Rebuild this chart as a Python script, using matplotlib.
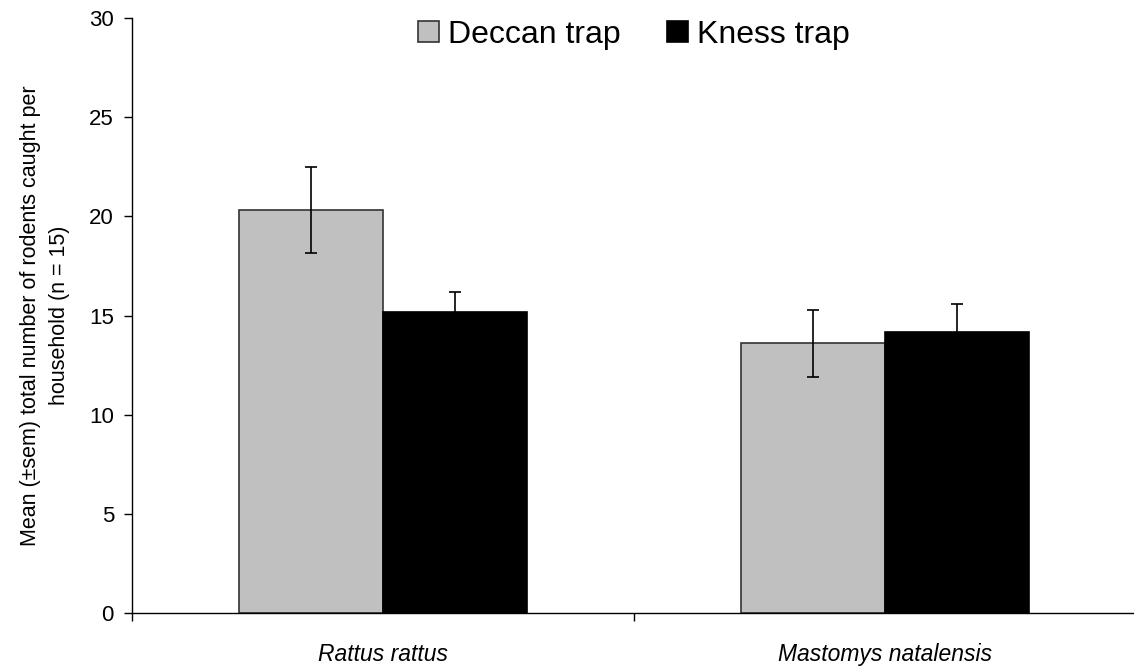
import numpy as np
import matplotlib.pyplot as plt

plt.rcParams['font.family'] = ['Liberation Sans', 'DejaVu Sans']

# Mean rodents caught per household, with standard error
species = ['Rattus rattus', 'Mastomys natalensis']
deccan_mean = [20.3, 13.6]
deccan_sem = [2.17, 1.69]
kness_mean = [15.2, 14.15]
kness_sem = [1.0, 1.45]

fig = plt.figure(figsize=(11.34, 6.7), dpi=100)
ax = fig.add_axes([132 / 1134, 57 / 670, 1004 / 1134, 595 / 670])

x = np.arange(len(species))
w = 0.287
err_kw = dict(ecolor='black', elinewidth=1.2, capsize=4.5, capthick=1.2)

ax.bar(x - w / 2, deccan_mean, w, yerr=deccan_sem, color='#c0c0c0',
       edgecolor='#333333', linewidth=1.2, label='Deccan trap', error_kw=err_kw)
ax.bar(x + w / 2, kness_mean, w, yerr=kness_sem, color='black',
       edgecolor='black', linewidth=1.2, label='Kness trap', error_kw=err_kw)

ax.set_xlim(-0.5, 1.5)
ax.set_ylim(0, 30)
ax.set_yticks(range(0, 31, 5))
ax.tick_params(axis='y', labelsize=16, length=6, width=1, direction='out', pad=7)

# category boundaries get the ticks, names sit in between
ax.set_xticks([-0.5, 0.5, 1.5])
ax.set_xticklabels([])
ax.tick_params(axis='x', length=6, width=1, direction='out')
for xi, name in zip(x, species):
    ax.text(xi, -1.5, name, ha='center', va='top', fontsize=16.5, style='italic')

for s in ['top', 'right']:
    ax.spines[s].set_visible(False)
for s in ['left', 'bottom']:
    ax.spines[s].set_linewidth(1)

ax.set_ylabel('Mean (±sem) total number of rodents caught per\nhousehold (n = 15)',
              fontsize=15.5, labelpad=14, linespacing=1.5)

ax.legend(loc='center', bbox_to_anchor=(0.5, 1 - 17 / 595), ncol=2, frameon=False,
          fontsize=23, handlelength=0.65, handleheight=0.65, handletextpad=0.3,
          columnspacing=1.45, borderaxespad=0, borderpad=0)

fig.savefig('out.png', dpi=100)
